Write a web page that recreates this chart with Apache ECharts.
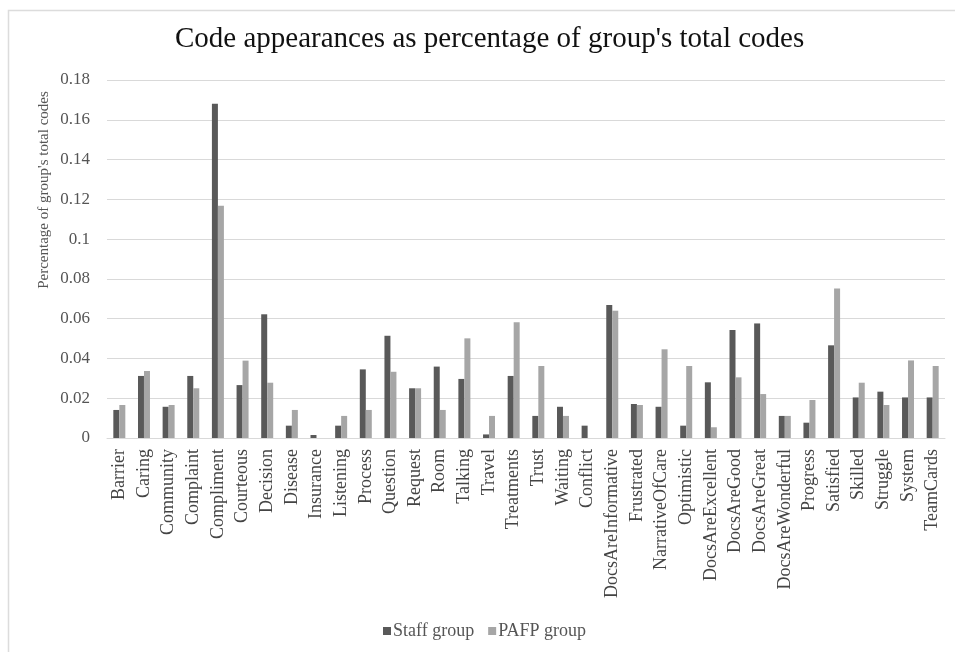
<!DOCTYPE html>
<html>
<head>
<meta charset="utf-8">
<script src="https://cdn.jsdelivr.net/npm/echarts@6/dist/echarts.min.js"></script>
<style>
  html, body { margin: 0; padding: 0; background: #ffffff; }
  #chart { width: 955px; height: 652px; }
</style>
</head>
<body>
<div id="chart"></div>
<script>
// Code categories along the x axis
var categories = [
  'Barrier', 'Caring', 'Community', 'Complaint', 'Compliment', 'Courteous',
  'Decision', 'Disease', 'Insurance', 'Listening', 'Process', 'Question',
  'Request', 'Room', 'Talking', 'Travel', 'Treatments', 'Trust', 'Waiting',
  'Conflict', 'DocsAreInformative', 'Frustrated', 'NarrativeOfCare',
  'Optimistic', 'DocsAreExcellent', 'DocsAreGood', 'DocsAreGreat',
  'DocsAreWonderful', 'Progress', 'Satisfied', 'Skilled', 'Struggle',
  'System', 'TeamCards'
];

// Share of each group's total codes
var staffGroup = [
  0.0141, 0.0312, 0.0157, 0.0312, 0.1680, 0.0266,
  0.0622, 0.0062, 0.0015, 0.0062, 0.0345, 0.0514,
  0.0250, 0.0359, 0.0297, 0.0018, 0.0312, 0.0111, 0.0157,
  0.0062, 0.0669, 0.0171, 0.0157,
  0.0062, 0.0280, 0.0543, 0.0576,
  0.0111, 0.0077, 0.0466, 0.0204, 0.0233,
  0.0204, 0.0204
];

var pafpGroup = [
  0.0166, 0.0337, 0.0166, 0.0250, 0.1168, 0.0389,
  0.0278, 0.0141, 0, 0.0111, 0.0141, 0.0333,
  0.0250, 0.0141, 0.0501, 0.0111, 0.0582, 0.0362, 0.0111,
  0, 0.0640, 0.0166, 0.0446,
  0.0362, 0.0054, 0.0305, 0.0221,
  0.0111, 0.0191, 0.0752, 0.0278, 0.0166,
  0.0390, 0.0362
];

var seriesNames = ['Staff group', 'PAFP group'];
var yTicks = { min: 0, max: 0.18, interval: 0.02 };

var serif = '"Liberation Serif", "DejaVu Serif", serif';

var chart = echarts.init(document.getElementById('chart'), null, { renderer: 'canvas' });

chart.setOption({
  backgroundColor: '#ffffff',
  animation: false,
  title: {
    text: "Code appearances as percentage of group's total codes",
    left: 170,
    top: 20,
    textStyle: { fontFamily: serif, fontSize: 29, fontWeight: 'normal', color: '#111111' }
  },
  legend: {
    data: seriesNames,
    left: 378,
    top: 617,
    itemWidth: 8,
    itemHeight: 8,
    itemGap: 14,
    icon: 'rect',
    textStyle: { fontFamily: serif, fontSize: 18, color: '#555555', padding: [0, 0, 0, -3] }
  },
  grid: { left: 107, right: 10, top: 80, bottom: 214, containLabel: false },
  graphic: [
    {
      type: 'rect',
      shape: { x: 8.5, y: 10.5, width: 960, height: 660 },
      style: { fill: 'none', stroke: '#dcdcdc', lineWidth: 1.5 },
      silent: true
    },
    {
      type: 'text',
      x: 44,
      y: 190,
      rotation: Math.PI / 2,
      style: {
        text: "Percentage of group's total codes",
        fontFamily: serif,
        fontSize: 15,
        fill: '#555555',
        align: 'center',
        verticalAlign: 'middle'
      }
    }
  ],
  xAxis: {
    type: 'category',
    data: categories,
    axisTick: { show: false },
    axisLine: { lineStyle: { color: '#d9d9d9', width: 1 } },
    axisLabel: {
      interval: 0,
      rotate: 90,
      margin: 11,
      fontFamily: serif,
      fontSize: 18,
      color: '#444444'
    }
  },
  yAxis: {
    type: 'value',
    min: yTicks.min,
    max: yTicks.max,
    interval: yTicks.interval,
    axisLine: { show: false },
    axisTick: { show: false },
    splitLine: { lineStyle: { color: '#d9d9d9', width: 1 } },
    axisLabel: {
      margin: 17,
      fontFamily: serif,
      fontSize: 17,
      color: '#555555',
      formatter: function (v) { return String(+v.toFixed(2)); }
    }
  },
  series: [
    {
      name: seriesNames[0],
      type: 'bar',
      data: staffGroup,
      barWidth: 6,
      barGap: '0%',
      itemStyle: { color: '#595959' }
    },
    {
      name: seriesNames[1],
      type: 'bar',
      data: pafpGroup,
      barWidth: 6,
      barGap: '0%',
      itemStyle: { color: '#a6a6a6' }
    }
  ]
});
</script>
</body>
</html>
